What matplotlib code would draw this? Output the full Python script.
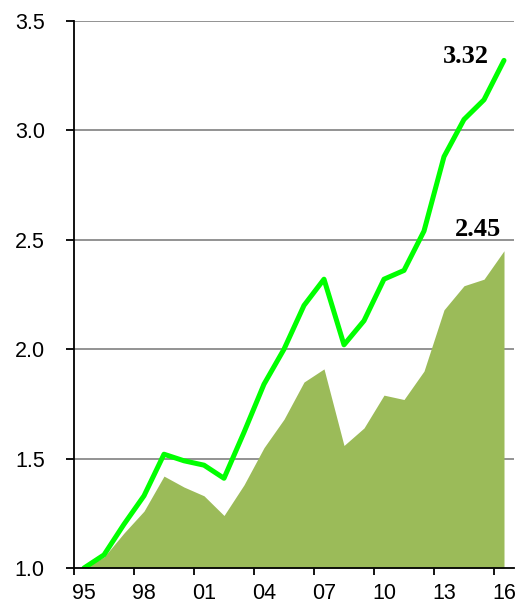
import matplotlib
matplotlib.use("Agg")
import matplotlib.pyplot as plt
import numpy as np

years = list(range(1995, 2017))
line_values = [1.00, 1.06, 1.20, 1.33, 1.52, 1.49, 1.47, 1.41, 1.62, 1.84,
               2.00, 2.20, 2.32, 2.02, 2.13, 2.32, 2.36, 2.54, 2.88, 3.05, 3.14, 3.32]
area_values = [1.00, 1.05, 1.16, 1.26, 1.42, 1.37, 1.33, 1.24, 1.38, 1.55,
               1.68, 1.85, 1.91, 1.56, 1.64, 1.79, 1.77, 1.90, 2.18, 2.29, 2.32, 2.45]
tick_labels = ["95", "98", "01", "04", "07", "10", "13", "16"]
yticks = [1.0, 1.5, 2.0, 2.5, 3.0, 3.5]

fig = plt.figure(figsize=(5.19, 6.06), dpi=100)
ax = fig.add_axes([74/519, 1 - 568/606, (514 - 74)/519, (568 - 21)/606])

x = np.arange(len(years))
ax.fill_between(x, 1.0, area_values, color="#9BBB59", lw=0, zorder=2)
ax.plot(x, line_values, color="#00FF00", lw=3.6, zorder=3, solid_capstyle="round")

ax.set_xlim(-0.5, len(years) - 0.5)
ax.set_ylim(1.0, 3.5)

for yv in yticks[1:]:
    ax.axhline(yv, color="#808080", lw=1.2, zorder=1)

ax.set_yticks(yticks)
ax.set_yticklabels([f"{v:.1f}" for v in yticks], fontsize=15.5, family="Liberation Sans")

label_pos = [years.index(1995 + 3 * i) for i in range(len(tick_labels))]
ax.set_xticks([p - 0.5 for p in label_pos])
ax.set_xticklabels([])
ax.set_xticks(label_pos, minor=True)
ax.set_xticklabels(tick_labels, minor=True, fontsize=15.5, family="Liberation Sans")
ax.tick_params(axis="x", which="minor", length=0, pad=11)
ax.tick_params(axis="x", which="major", length=5, width=1.3, direction="out")
ax.tick_params(axis="y", length=6, width=1.3, direction="out", pad=15)

for s in ["top", "right"]:
    ax.spines[s].set_visible(False)
for s in ["left", "bottom"]:
    ax.spines[s].set_linewidth(1.3)
    ax.spines[s].set_zorder(4)

ax.text(19.1, 3.34, f"{line_values[-1]:.2f}", ha="center", va="center",
        fontsize=19, fontweight="bold", family="Liberation Serif")
ax.text(19.7, 2.545, f"{area_values[-1]:.2f}", ha="center", va="center",
        fontsize=19, fontweight="bold", family="Liberation Serif")

fig.savefig("out.png", dpi=100)
